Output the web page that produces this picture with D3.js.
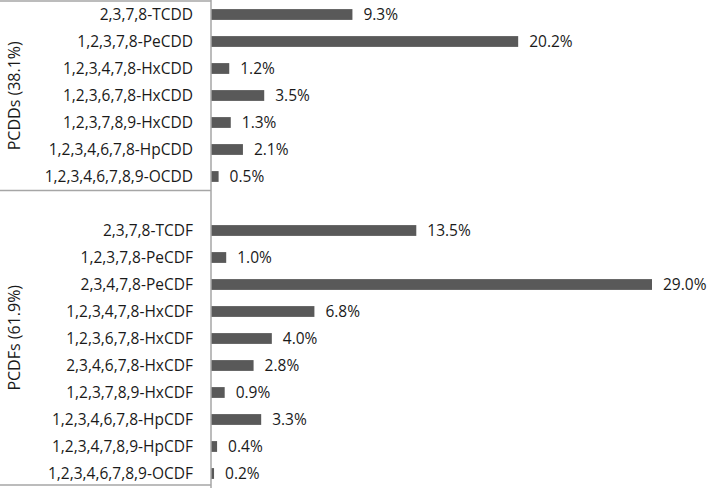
<!DOCTYPE html>
<html>
<head>
<meta charset="utf-8">
<script src="https://cdn.jsdelivr.net/npm/d3@7"></script>
<style>
  body { margin: 0; background: #fff; }
  text { font-family: "Open Sans", sans-serif; fill: #1a1a1a; }
</style>
</head>
<body>
<div id="chart"></div>
<script>
// data
const ddLabels = ["2,3,7,8-TCDD", "1,2,3,7,8-PeCDD", "1,2,3,4,7,8-HxCDD", "1,2,3,6,7,8-HxCDD",
  "1,2,3,7,8,9-HxCDD", "1,2,3,4,6,7,8-HpCDD", "1,2,3,4,6,7,8,9-OCDD"];
const ddValues = [9.3, 20.2, 1.2, 3.5, 1.3, 2.1, 0.5];
const dfLabels = ["2,3,7,8-TCDF", "1,2,3,7,8-PeCDF", "2,3,4,7,8-PeCDF", "1,2,3,4,7,8-HxCDF",
  "1,2,3,6,7,8-HxCDF", "2,3,4,6,7,8-HxCDF", "1,2,3,7,8,9-HxCDF", "1,2,3,4,6,7,8-HpCDF",
  "1,2,3,4,7,8,9-HpCDF", "1,2,3,4,6,7,8,9-OCDF"];
const dfValues = [13.5, 1.0, 29.0, 6.8, 4.0, 2.8, 0.9, 3.3, 0.4, 0.2];
const groupNames = ["PCDDs (38.1%)", "PCDFs (61.9%)"];

const width = 709, height = 488;
const axisX = 211;

// one blank row between the two groups
const rows = [];
ddLabels.forEach((l, i) => rows.push({key: "d" + i, label: l, value: ddValues[i]}));
rows.push({key: "gap", label: "", value: null});
dfLabels.forEach((l, i) => rows.push({key: "f" + i, label: l, value: dfValues[i]}));

const svg = d3.select("#chart").append("svg")
  .attr("width", width)
  .attr("height", height);

const y = d3.scaleBand()
  .domain(rows.map(d => d.key))
  .range([1, 1 + rows.length * 27])
  .paddingInner(0.6)
  .paddingOuter(0.3);

const x = d3.scaleLinear()
  .domain([0, 29])
  .range([axisX, 652]);

const bars = rows.filter(d => d.value !== null);

svg.selectAll("rect.bar")
  .data(bars)
  .enter().append("rect")
  .attr("class", "bar")
  .attr("x", x(0))
  .attr("y", d => y(d.key))
  .attr("width", d => x(d.value) - x(0))
  .attr("height", y.bandwidth())
  .attr("fill", "#595959");

svg.selectAll("text.val")
  .data(bars)
  .enter().append("text")
  .attr("class", "val")
  .attr("x", d => x(d.value) + 11)
  .attr("y", d => y(d.key) + y.bandwidth() / 2)
  .attr("dy", "0.36em")
  .style("font-size", "15.5px")
  .text(d => d.value.toFixed(1) + "%");

svg.selectAll("text.cat")
  .data(bars)
  .enter().append("text")
  .attr("class", "cat")
  .attr("x", 193)
  .attr("y", d => y(d.key) + y.bandwidth() / 2)
  .attr("dy", "0.36em")
  .attr("text-anchor", "end")
  .style("font-size", "15.5px")
  .text(d => d.label);

// box lines around the category labels
const lineColor = "#a6a6a6";
const sepY = [1, 190.5, 485];
svg.selectAll("line.sep")
  .data(sepY)
  .enter().append("line")
  .attr("x1", 0).attr("x2", axisX)
  .attr("y1", d => d).attr("y2", d => d)
  .attr("stroke", lineColor)
  .attr("stroke-width", 1.5);

svg.append("line")
  .attr("x1", axisX).attr("x2", axisX)
  .attr("y1", 0).attr("y2", height)
  .attr("stroke", lineColor)
  .attr("stroke-width", 1.5);

// rotated group names
const groupMid = [(sepY[0] + sepY[1]) / 2, (sepY[1] + sepY[2]) / 2];
svg.selectAll("text.grp")
  .data(groupNames)
  .enter().append("text")
  .attr("class", "grp")
  .attr("transform", (d, i) => "translate(14," + groupMid[i] + ") rotate(-90)")
  .attr("text-anchor", "middle")
  .attr("dy", "0.36em")
  .style("font-size", "16px")
  .text(d => d);
</script>
</body>
</html>
